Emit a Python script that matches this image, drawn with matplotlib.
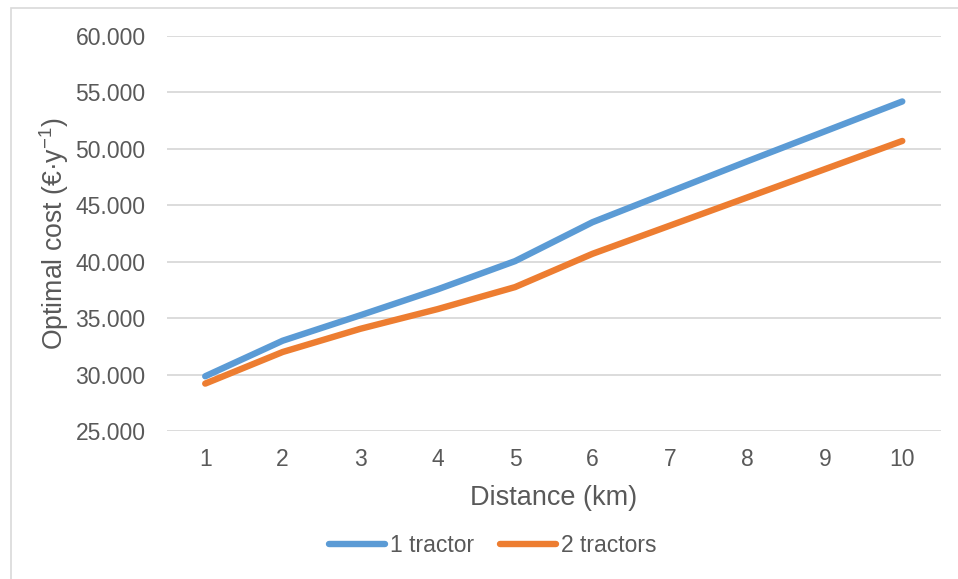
import matplotlib
matplotlib.use("Agg")
import matplotlib.pyplot as plt
import matplotlib.patches as patches
from matplotlib.ticker import FuncFormatter

plt.rcParams['font.family'] = ['Liberation Sans', 'DejaVu Sans']
plt.rcParams['mathtext.fontset'] = 'custom'
plt.rcParams['mathtext.rm'] = 'Liberation Sans'
plt.rcParams['mathtext.it'] = 'Liberation Sans:italic'

TEXT = '#595959'
GRID = '#D9D9D9'

distance = [1, 2, 3, 4, 5, 6, 7, 8, 9, 10]
one_tractor = [29850, 33000, 35250, 37550, 40050, 43500, 46200, 48900, 51550, 54200]
two_tractors = [29200, 32000, 34050, 35800, 37750, 40700, 43200, 45700, 48200, 50700]
yticks = [25000, 30000, 35000, 40000, 45000, 50000, 55000, 60000]

fig = plt.figure(figsize=(9.58, 5.79), dpi=100)
ax = fig.add_axes([166.5 / 958, 148 / 579, 774.5 / 958, 395 / 579])

# light frame around the whole chart area
fig.patches.append(patches.Rectangle((10.5 / 958, -0.05), 1.2, (579 - 7.5) / 579 + 0.05,
                                     transform=fig.transFigure, fill=False,
                                     edgecolor=GRID, linewidth=1.2))

ax.plot(distance, one_tractor, color='#5B9BD5', lw=4.6, solid_capstyle='round',
        solid_joinstyle='round', label='1 tractor', zorder=3)
ax.plot(distance, two_tractors, color='#ED7D31', lw=4.6, solid_capstyle='round',
        solid_joinstyle='round', label='2 tractors', zorder=3)

ax.set_xlim(0.5, 10.5)
ax.set_ylim(25000, 60000)
ax.set_xticks(distance)
ax.set_yticks(yticks)
ax.yaxis.set_major_formatter(FuncFormatter(lambda v, p: f"{v:,.0f}".replace(",", ".")))
ax.grid(axis='y', color=GRID, lw=1.3)
ax.set_axisbelow(True)
for s in ax.spines.values():
    s.set_visible(False)
ax.tick_params(length=0, labelsize=16.5, labelcolor=TEXT)
ax.tick_params(axis='y', pad=15)
ax.tick_params(axis='x', pad=12)

ax.set_xlabel('Distance (km)', fontsize=19.5, color=TEXT, labelpad=10)
ax.set_ylabel('Optimal cost (€·y$^{-1}$)', fontsize=19.2, color=TEXT, labelpad=3)

ax.legend(loc='center', bbox_to_anchor=(492.5 / 958, 1 - 546 / 579),
          bbox_transform=fig.transFigure, ncol=2, frameon=False, fontsize=16.5,
          labelcolor=TEXT, handlelength=2.45, handletextpad=0.2, columnspacing=1.15)

fig.savefig('out.png', dpi=100)
